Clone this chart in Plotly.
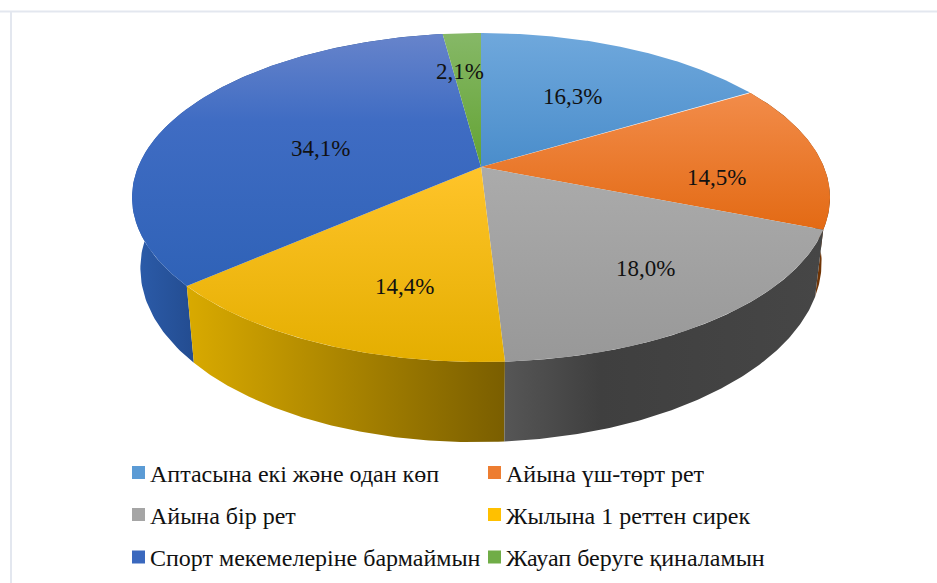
import numpy as np
import plotly.graph_objects as go

categories = ["Аптасына екі және одан көп", "Айына үш-төрт рет", "Айына бір рет",
              "Жылына 1 реттен сирек", "Спорт мекемелеріне бармаймын", "Жауап беруге қиналамын"]
shares = [16.3, 14.5, 18.0, 14.4, 34.1, 2.1]
share_labels = ["16,3%", "14,5%", "18,0%", "14,4%", "34,1%", "2,1%"]

# styling
top_colors = [("#6FA8DC", "#4A8DCB"), ("#F28C4A", "#E36A14"), ("#ABABAB", "#989898"),
              ("#FFC42A", "#E4AE00"), [(0, "#6784CB"), (0.35, "#3F6CC3"), (1, "#2F62B7")], ("#86B867", "#63A333")]
wall_colors = [None, ("#7C3C08", "#6E3305"), [(0, "#565656"), (0.3, "#3F3F3F"), (1, "#464646")],
               ("#D9AA00", "#7A5E00"), ("#2C5CAA", "#234C90"), None]
swatch_colors = ["#5B9BD5", "#ED7D31", "#A5A5A5", "#FFC000", "#3A68BE", "#70AD47"]
label_xy = [(572, 96), (716, 177), (645, 268), (404, 286), (320, 148), (460, 71)]
legend_xy = [(132, 472.5), (488, 472.5), (132, 514.5), (488, 514.5), (132, 557), (488, 557)]
legend_text_gap = [15.5, 16, 15.5, 16, 15.5, 16]
FONT = "Liberation Serif"
CX, CY, RX, RY, TILT = 481, 197.5, 349, 164.5, 0.185


def project(theta):
    """Disc angle (clockwise from the top) -> pixel position on the perspective ellipse."""
    u, v = np.sin(theta), np.cos(theta)
    d = 1 + TILT * v
    return CX + RX * u * np.sqrt(1 - TILT ** 2) / d, CY - RY * (v + TILT) / d


def drop(x, y):
    """Top-rim pixel -> matching bottom-rim pixel."""
    return CX + (x - CX) * 0.976, y + 70 + 0.075 * (y - 228) + (CX - x) * 0.0085


def gradient(colors, kind, start, stop):
    if isinstance(colors, tuple):
        colors = [(0, colors[0]), (1, colors[1])]
    return dict(type=kind, colorscale=[list(c) for c in colors], start=start, stop=stop)


fractions = np.cumsum([0] + shares) / sum(shares)
angles = fractions * 2 * np.pi
fig = go.Figure()

for i in [1, 4, 3, 2]:
    th = np.linspace(angles[i], angles[i + 1], 120)
    x, y = project(th)
    xb, yb = drop(x, y)
    px = np.r_[x, xb[::-1], x[0]]
    py = np.r_[y, yb[::-1], y[0]]
    lo, hi = (135, 195) if i == 4 else (float(x.min()), float(x.max()))
    if i == 1:
        lo, hi = 780, 830
    fig.add_trace(go.Scatter(x=px, y=py, mode="lines", line=dict(width=0), fill="toself",
                             fillgradient=gradient(wall_colors[i], "horizontal", lo, hi),
                             hoverinfo="skip", showlegend=False))

for i in range(len(shares)):
    th = np.linspace(angles[i], angles[i + 1], 200)
    x, y = project(th)
    ax, ay = float(CX), CY - RY * TILT
    px = np.r_[ax, x, ax]
    py = np.r_[ay, y, ay]
    fig.add_trace(go.Scatter(x=px, y=py, mode="lines", line=dict(width=0), fill="toself",
                             fillgradient=gradient(top_colors[i], "vertical", float(py.min()), float(py.max())),
                             hoverinfo="skip", showlegend=False))

fig.add_trace(go.Scatter(
    x=[p[0] + 6.5 for p in legend_xy], y=[p[1] for p in legend_xy], mode="markers",
    marker=dict(symbol="square", size=13, color=swatch_colors, line=dict(width=0)),
    hoverinfo="skip", showlegend=False))

annotations = [dict(x=p[0], y=p[1], text=t, showarrow=False, xanchor="center", yanchor="middle",
                    font=dict(family=FONT, size=23, color="#111111"))
               for p, t in zip(label_xy, share_labels)]
annotations += [dict(x=p[0] + g, y=p[1] + 1, text=t, showarrow=False, xanchor="left", yanchor="middle",
                     font=dict(family=FONT, size=24, color="#111111"))
                for p, t, g in zip(legend_xy, categories, legend_text_gap)]

frame = dict(color="#E3E7EF", width=2)
fig.update_layout(
    width=937, height=583, margin=dict(l=0, r=0, t=0, b=0),
    paper_bgcolor="white", plot_bgcolor="white",
    xaxis=dict(range=[0, 937], visible=False, fixedrange=True),
    yaxis=dict(range=[583, 0], visible=False, fixedrange=True),
    annotations=annotations,
    shapes=[dict(type="line", x0=0, x1=937, y0=11.5, y1=11.5, line=frame),
            dict(type="line", x0=11, x1=11, y0=11.5, y1=583, line=frame)],
)
fig.write_html("out.html", config=dict(displayModeBar=False),
               post_script="document.body.style.margin='0';document.documentElement.style.overflow='hidden';")
